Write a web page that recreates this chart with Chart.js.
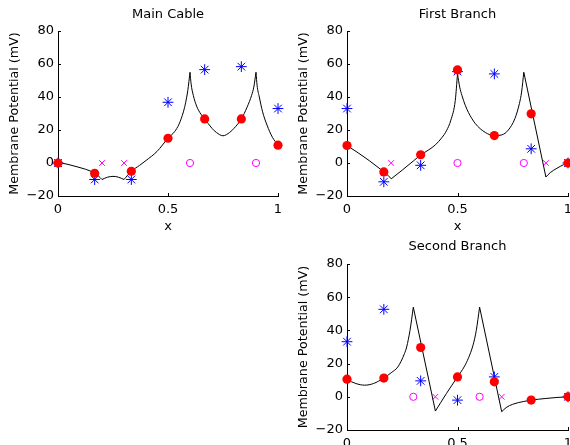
<!DOCTYPE html>
<html>
<head>
<meta charset="utf-8">
<script src="https://cdn.jsdelivr.net/npm/chart.js@4.4.0/dist/chart.umd.min.js"></script>
<style>
  html, body { margin: 0; padding: 0; width: 570px; height: 446px; overflow: hidden; background: #fff; }
  canvas { position: absolute; }
  #mainCable { left: 0; top: 0; }
  #firstBranch { left: 289px; top: 0; }
  #secondBranch { left: 289px; top: 232px; }
  .edge { position: absolute; left: 0; top: 445px; width: 570px; height: 1px; background: #cdcdd6; }
</style>
</head>
<body>
<canvas id="mainCable" width="300" height="240"></canvas>
<canvas id="firstBranch" width="300" height="240"></canvas>
<canvas id="secondBranch" width="300" height="242"></canvas>
<div class="edge"></div>
<script>
// Axis ticks shared by the three panels
const xTicks = [0, 0.5, 1];
const yTicks = [-20, 0, 20, 40, 60, 80];

// Node positions where the dots and stars sit
const nodeX = [0, 1/6, 1/3, 1/2, 2/3, 5/6, 1];

// Potential profiles; a null splits the curve at a cusp so each piece is smoothed on its own
// Main cable
const mainCurveX = [0, 0.05, 0.1, 0.15, 1/6, 0.185, 0.2,
                    0.2, 0.2, 0.225, 0.25, 0.275, 0.3,
                    0.3, 0.3, 1/3, 0.37, 0.4, 0.45, 0.5, 0.53, 0.55, 0.57, 0.58, 0.59, 0.6,
                    0.6, 0.6, 0.605, 0.615, 0.63, 0.65, 2/3, 0.7, 0.72, 0.75, 0.78, 0.8, 5/6, 0.86, 0.88, 0.89, 0.9,
                    0.9, 0.9, 0.905, 0.915, 0.93, 0.95, 0.975, 1];
const mainCurveY = [0.5, -1, -2.8, -5, -6.2, -8, -10,
                    null, -10, -8.6, -8.1, -8.6, -10,
                    null, -10, -5, -1.5, 1.5, 7, 15, 19, 23.5, 31, 36.5, 44, 55,
                    null, 55, 48, 41, 34.5, 29.5, 26.7, 21, 18.5, 16.5, 18.5, 21, 26.7, 34, 41, 46, 55,
                    null, 55, 47, 40, 31, 23, 15.5, 11];
const mainDots = [0, -6.2, -5, 15, 26.7, 26.7, 10.8];
const mainStars = [0, -10, -10, 36.8, 56.6, 58.4, 33];
const mainCrossX = [0.2, 0.3];
const mainCrossY = [0, 0];
const mainRingX = [0.6, 0.9];
const mainRingY = [0, 0];

// First branch
const branch1CurveX = [0, 0.05, 0.1, 0.15, 1/6, 0.185, 0.2,
                       0.2, 0.2, 0.25, 0.3, 1/3, 0.37, 0.4, 0.43, 0.45, 0.47, 0.49, 0.5,
                       0.5, 0.5, 0.51, 0.52, 0.535, 0.55, 0.58, 0.626, 2/3, 0.7, 0.73, 0.76, 0.78, 0.79, 0.8,
                       0.8, 0.8, 0.9,
                       0.9, 0.9, 0.92, 0.95, 0.98, 1];
const branch1CurveY = [10.6, 6.2, 1.5, -3.6, -5.4, -7.4, -9.6,
                       null, -9.6, -4.3, 1.2, 4.8, 8, 11, 15.5, 19.5, 26, 38, 54,
                       null, 54, 46, 41, 35, 30.5, 24, 18.5, 16.6, 17, 20, 27, 36, 43, 55,
                       null, 55, -8.5,
                       null, -8.5, -5.8, -3.2, -1, 0];
const branch1Dots = [10.6, -5.4, 5, 56.4, 16.6, 29.8, 0];
const branch1Stars = [33, -11.4, -1.4, 55.4, 54, 8.6, 0];
const branch1CrossX = [0.2, 0.9];
const branch1CrossY = [0, 0];
const branch1RingX = [0.5, 0.8];
const branch1RingY = [0, 0];

// Second branch
const branch2CurveX = [0, 0.04, 0.08, 0.12, 1/6, 0.2, 0.23, 0.26, 0.27, 0.285, 0.3,
                       0.3, 0.3, 0.4,
                       0.4, 0.4, 0.45, 0.5, 0.53, 0.55, 0.57, 0.585, 0.6,
                       0.6, 0.6, 0.7,
                       0.7, 0.7, 0.72, 0.75, 0.8, 5/6, 0.9, 0.95, 1];
const branch2CurveY = [10.3, 8, 7, 8, 11.3, 14.5, 18, 26, 30, 40, 54,
                       null, 54, -8.6,
                       null, -8.6, 2, 12, 18, 23.5, 31, 40, 54,
                       null, 54, -9,
                       null, -9, -6.5, -4.5, -2.8, -2, -1, -0.4, 0];
const branch2Dots = [10.6, 11.3, 29.7, 12, 9, -2, 0];
const branch2Stars = [33.2, 52.7, 9.6, -2, 12, null, 0];
const branch2CrossX = [0.4, 0.7];
const branch2CrossY = [0, 0];
const branch2RingX = [0.3, 0.6];
const branch2RingY = [0, 0];

const FONT = "'DejaVu Sans', sans-serif";
const RED = '#ff0000';
const BLUE = '#0000ff';
const MAGENTA = '#ff00ff';

function pairs(xs, ys) {
    return xs.map((x, i) => ({ x: x, y: ys[i] })).filter(p => p.y !== null);
}

// keeps the nulls so the line breaks there
function pairsWithGaps(xs, ys) {
    return xs.map((x, i) => ({ x: x, y: ys[i] }));
}

// MATLAB style short ticks pointing into the plot
const inwardTicks = {
    id: 'inwardTicks',
    beforeDatasetsDraw(chart) {
        const { ctx, chartArea: a, scales } = chart;
        ctx.save();
        ctx.strokeStyle = '#000';
        ctx.lineWidth = 1;
        ctx.beginPath();
        scales.x.ticks.forEach(t => {
            const px = Math.round(scales.x.getPixelForValue(t.value)) + 0.5;
            ctx.moveTo(px, a.bottom);
            ctx.lineTo(px, a.bottom - 3);
        });
        scales.y.ticks.forEach(t => {
            const py = Math.round(scales.y.getPixelForValue(t.value)) + 0.5;
            ctx.moveTo(a.left, py);
            ctx.lineTo(a.left + 3, py);
        });
        ctx.stroke();
        ctx.restore();
    }
};

function makePanel(id, title, s, titleGap, padRight) {
    return new Chart(document.getElementById(id), {
        type: 'scatter',
        data: {
            datasets: [
                { data: pairs(nodeX, s.dots), order: 0, pointStyle: 'circle', pointRadius: 4.6,
                  backgroundColor: RED, borderColor: RED, borderWidth: 0, clip: false },
                { data: pairs(nodeX, s.stars), order: 1, pointStyle: 'star', pointRadius: 5.4,
                  borderColor: BLUE, backgroundColor: BLUE, borderWidth: 1, clip: false },
                { data: pairsWithGaps(s.curveX, s.curveY), order: 2, showLine: true, spanGaps: false,
                  pointRadius: 0, borderColor: '#000', borderWidth: 1,
                  cubicInterpolationMode: 'monotone', fill: false },
                { data: pairs(s.crossX, s.crossY), order: 3, pointStyle: 'crossRot', pointRadius: 4,
                  borderColor: MAGENTA, borderWidth: 1, clip: false },
                { data: pairs(s.ringX, s.ringY), order: 3, pointStyle: 'circle', pointRadius: 3.6,
                  borderColor: MAGENTA, backgroundColor: 'rgba(0,0,0,0)', borderWidth: 1, clip: false }
            ]
        },
        options: {
            responsive: false,
            animation: false,
            events: [],
            layout: { padding: { left: 0, top: 0, right: padRight, bottom: 6 } },
            plugins: {
                legend: { display: false },
                tooltip: { enabled: false },
                title: {
                    display: true,
                    text: title,
                    fullSize: false,
                    color: '#000',
                    font: { family: FONT, size: 13, weight: 'normal', lineHeight: 1.2 },
                    padding: { top: 7, bottom: titleGap }
                }
            },
            scales: {
                x: {
                    type: 'linear',
                    min: 0,
                    max: 1,
                    afterBuildTicks: sc => { sc.ticks = xTicks.map(v => ({ value: v })); },
                    afterFit: sc => { sc.height = 38; },
                    grid: { display: false, drawTicks: false },
                    border: { display: true, color: '#000', width: 1 },
                    ticks: {
                        color: '#000', padding: 6, maxRotation: 0,
                        font: { family: FONT, size: 13, lineHeight: 1.2 },
                        callback: v => String(v)
                    },
                    title: {
                        display: true, text: 'x', color: '#000',
                        font: { family: FONT, size: 13, lineHeight: 1.2 },
                        padding: { top: 0, bottom: 0 }
                    }
                },
                y: {
                    type: 'linear',
                    min: -20,
                    max: 80,
                    afterBuildTicks: sc => { sc.ticks = yTicks.map(v => ({ value: v })); },
                    afterFit: sc => { sc.width = 58; },
                    grid: { display: false, drawTicks: false },
                    border: { display: true, color: '#000', width: 1 },
                    ticks: {
                        color: '#000', padding: 4,
                        font: { family: FONT, size: 13, lineHeight: 1.2 },
                        callback: v => String(v).replace('-', '\u2212')
                    },
                    title: {
                        display: true, text: 'Membrane Potential (mV)', color: '#000',
                        font: { family: FONT, size: 12.7, lineHeight: 1.2 },
                        padding: { top: 7, bottom: 0 }
                    }
                }
            }
        },
        plugins: [inwardTicks]
    });
}

makePanel('mainCable', 'Main Cable', {
    curveX: mainCurveX, curveY: mainCurveY, dots: mainDots, stars: mainStars,
    crossX: mainCrossX, crossY: mainCrossY, ringX: mainRingX, ringY: mainRingY
}, 8.4, 22);

makePanel('firstBranch', 'First Branch', {
    curveX: branch1CurveX, curveY: branch1CurveY, dots: branch1Dots, stars: branch1Stars,
    crossX: branch1CrossX, crossY: branch1CrossY, ringX: branch1RingX, ringY: branch1RingY
}, 8.4, 21);

makePanel('secondBranch', 'Second Branch', {
    curveX: branch2CurveX, curveY: branch2CurveY, dots: branch2Dots, stars: branch2Stars,
    crossX: branch2CrossX, crossY: branch2CrossY, ringX: branch2RingX, ringY: branch2RingY
}, 9.4, 21);
</script>
</body>
</html>
